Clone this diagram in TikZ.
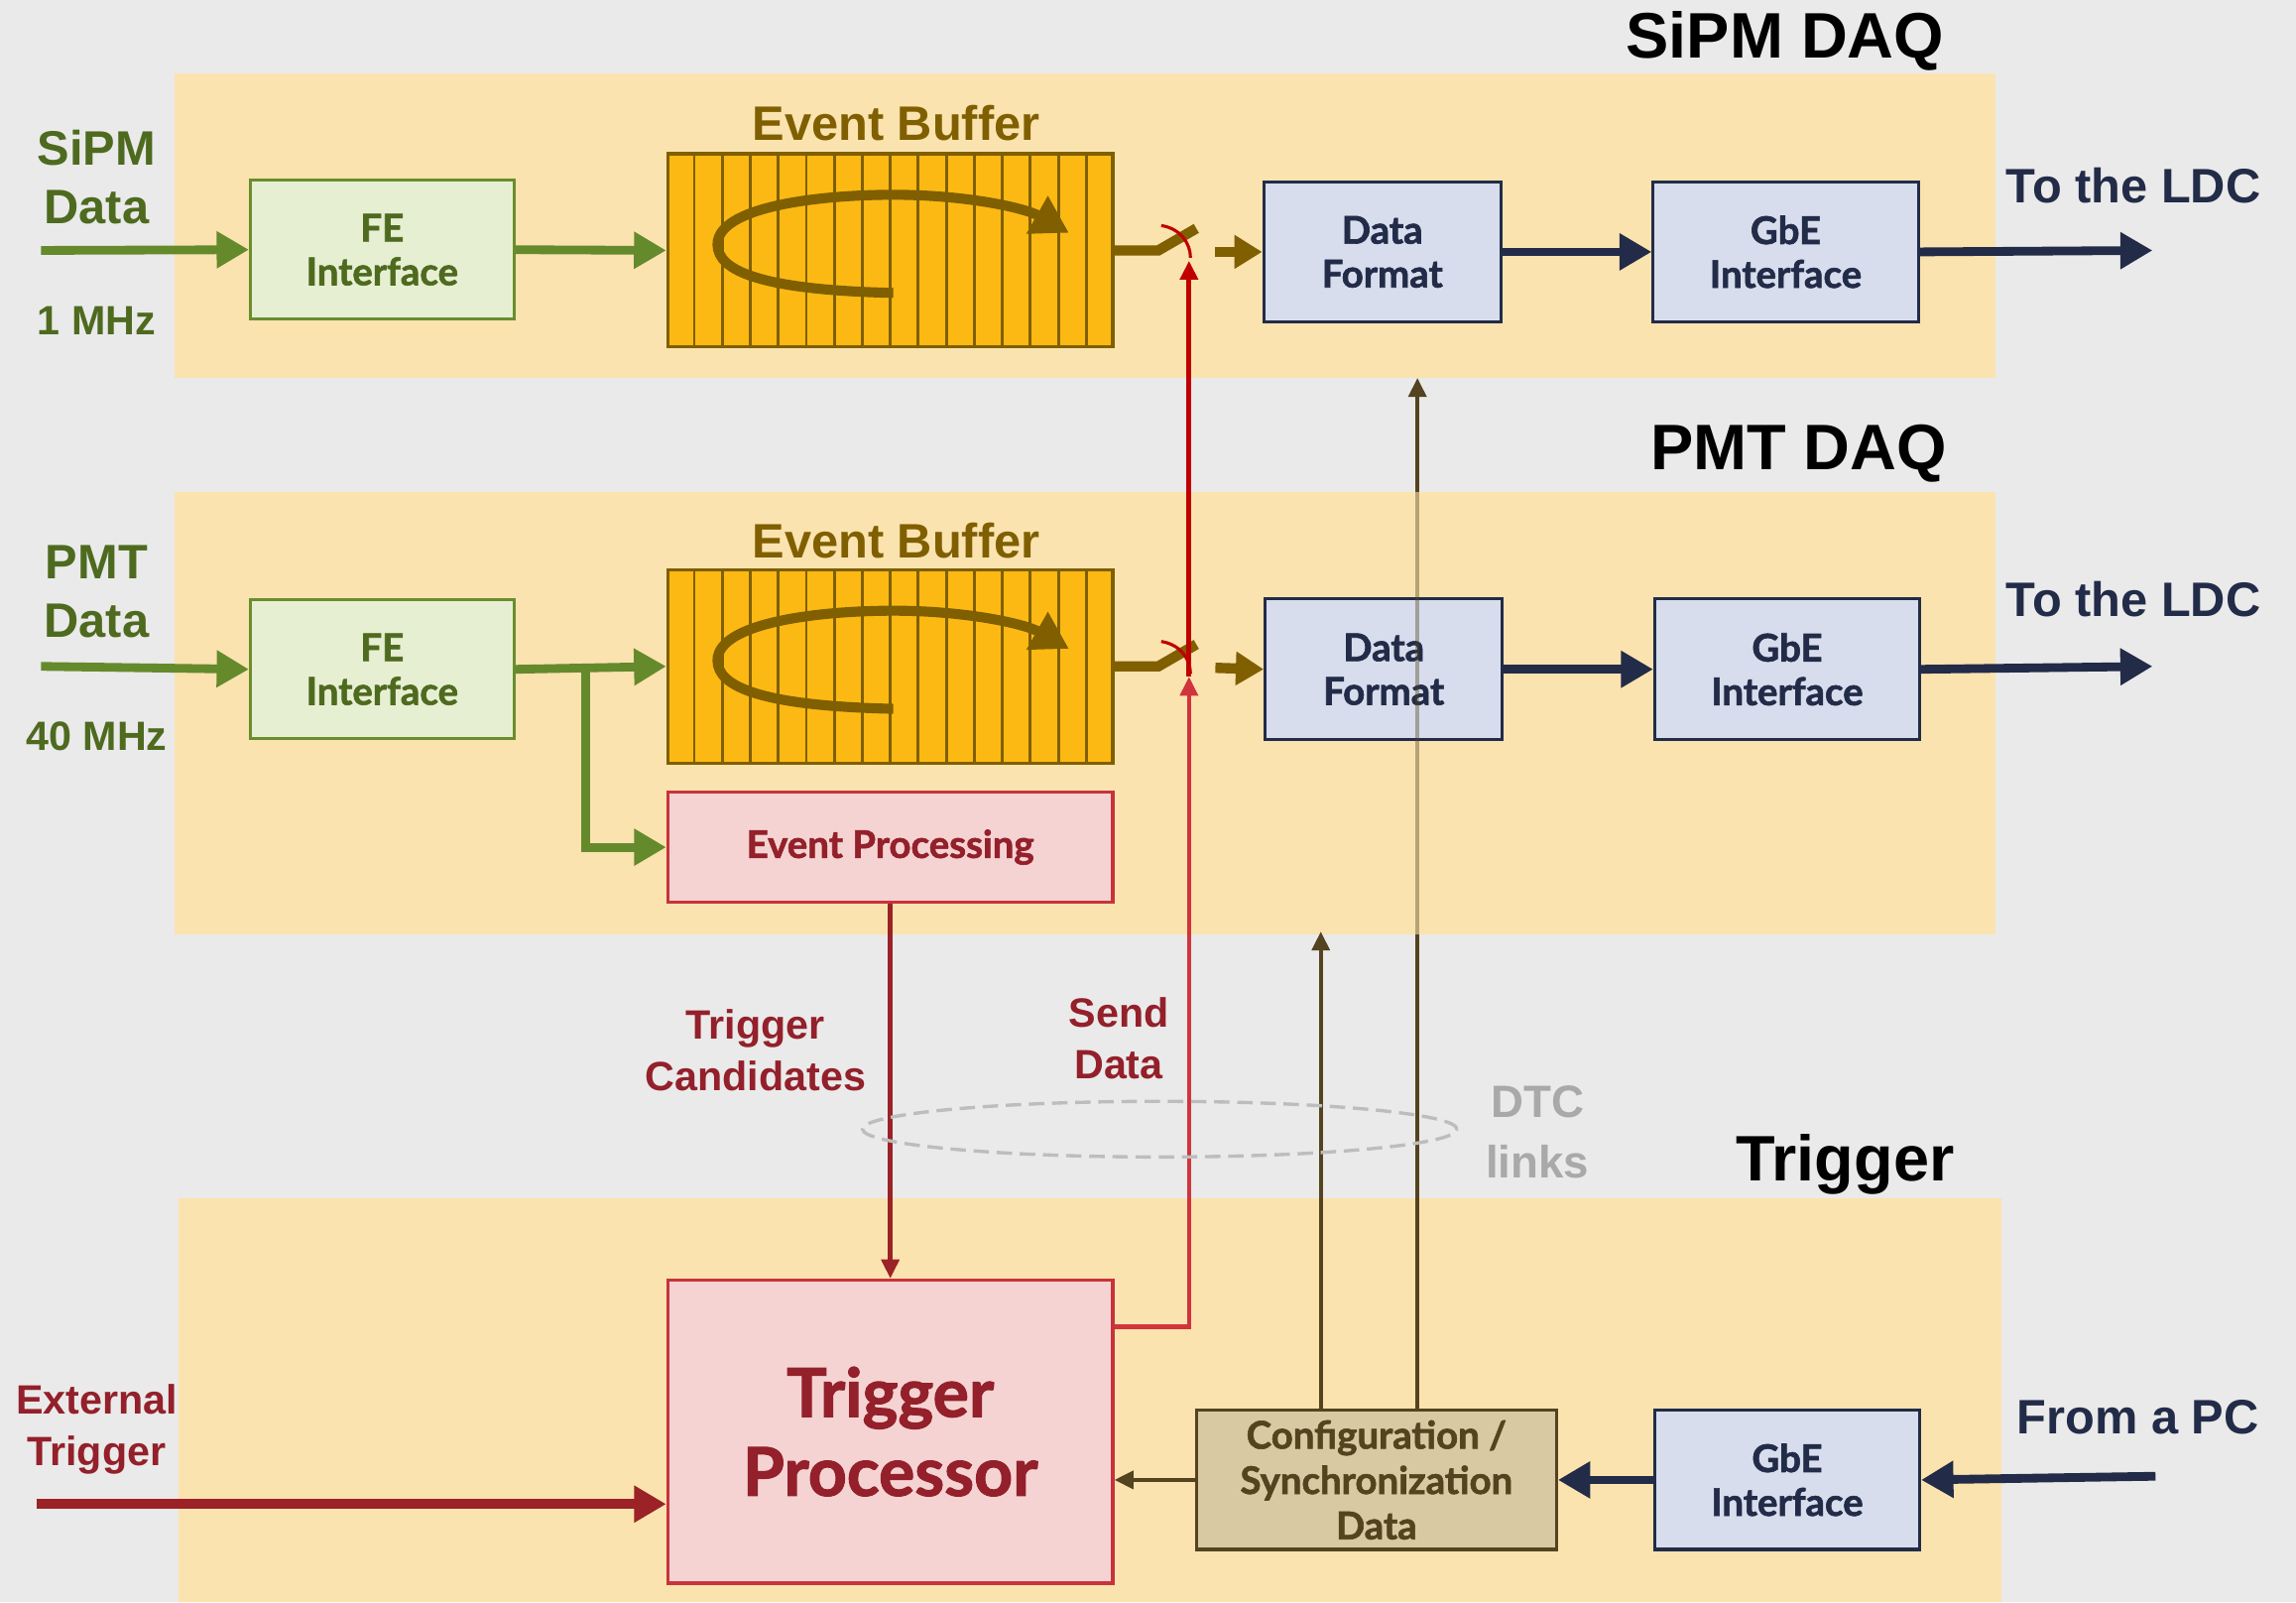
\documentclass[tikz,border=0pt]{standalone}
\usepackage{fontspec}
\setmainfont{Liberation Sans}
\newfontfamily\boxfont{Lato}[BoldFeatures={FakeBold=1.6}]
\usetikzlibrary{arrows.meta,calc}

\definecolor{paper}{HTML}{EAEAEA}
\definecolor{bandc}{HTML}{FAE3AF}
\definecolor{gtext}{HTML}{4E6A1F}
\definecolor{garr}{HTML}{658A2C}
\definecolor{fefill}{HTML}{E7EFD3}
\definecolor{fedraw}{HTML}{6A8D2E}
\definecolor{navy}{HTML}{222C48}
\definecolor{bluefill}{HTML}{D7DDEC}
\definecolor{bufbrown}{HTML}{7F5F00}
\definecolor{buffill}{HTML}{FDB913}
\definecolor{redfill}{HTML}{F5D3D3}
\definecolor{reddraw}{HTML}{C8333B}
\definecolor{redtext}{HTML}{93202A}
\definecolor{candred}{HTML}{9B2226}
\definecolor{sendred}{HTML}{D0343C}
\definecolor{brightred}{HTML}{C00000}
\definecolor{cfgfill}{HTML}{D9C9A3}
\definecolor{cfgdraw}{HTML}{54431F}
\definecolor{dtcgray}{HTML}{A9A9A9}
\definecolor{dtcline}{HTML}{BDBDBD}

\tikzset{
  band/.style={fill=bandc, draw=none},
  boxbase/.style={line width=1.2pt, align=center, inner sep=0pt,
    font=\boxfont\bfseries\fontsize{14.8}{17}\selectfont},
  febox/.style={boxbase, draw=fedraw, fill=fefill, text=gtext,
    minimum width=36mm, minimum height=19mm},
  bluebox/.style={boxbase, draw=navy, fill=bluefill, text=navy,
    minimum width=32.4mm, minimum height=19.2mm},
  gbebox/.style={bluebox, minimum width=36.2mm},
  bufbox/.style={draw=bufbrown, fill=buffill, line width=1.2pt,
    minimum width=60.8mm, minimum height=26.4mm, inner sep=0pt},
  redbox/.style={boxbase, draw=reddraw, fill=redfill, text=redtext},
  cfgbox/.style={boxbase, draw=cfgdraw, fill=cfgfill, text=cfgdraw,
    minimum width=49.2mm, minimum height=19mm,
    font=\boxfont\bfseries\fontsize{14.8}{17.6}\selectfont},
  lab/.style={align=center, inner sep=0pt,
    font=\bfseries\fontsize{18.8}{23}\selectfont},
  smalllab/.style={align=center, inner sep=0pt,
    font=\bfseries\fontsize{15.9}{19.9}\selectfont},
  title/.style={anchor=east, inner sep=0pt,
    font=\bfseries\fontsize{25}{30}\selectfont},
  bigtip/.style={-{Triangle[length=4.4mm,width=4.8mm]}},
  garrow/.style={draw=garr, line width=3.4pt, bigtip},
  narrow/.style={draw=navy, line width=3.4pt, bigtip},
  rarrow/.style={draw=candred, line width=3.8pt, bigtip},
  lever/.style={draw=bufbrown, line width=4pt},
  barrow/.style={draw=bufbrown, line width=4pt,
    -{Triangle[length=3.8mm,width=4.4mm]}},
  looparrow/.style={draw=bufbrown, line width=3.9pt,
    -{Triangle[length=5mm,width=5.6mm]}},
  thintip/.style={-{Triangle[length=2.6mm,width=2.4mm]}},
  candline/.style={draw=candred, line width=1.7pt, thintip},
  sendlow/.style={draw=sendred, line width=1.7pt, thintip},
  sendhigh/.style={draw=brightred, line width=1.9pt, thintip},
  cfgline/.style={draw=cfgdraw, line width=1.7pt},
  arcred/.style={draw=brightred, line width=1.2pt},
}

\begin{document}
\begin{tikzpicture}[x=0.02cm, y=-0.02cm]
\useasboundingbox (0,0) rectangle (1568,1094);
\fill[paper] (0,0) rectangle (1568,1094);

% shaded regions of the three subsystems
\fill[band] (119,50) rectangle (1363,258);
\fill[band] (119,336) rectangle (1363,638);
\fill[band] (122,818) rectangle (1367,1094);

\node[title] (tsipm) at (1328,28) {SiPM DAQ};
\node[title] (tpmt) at (1330,310) {PMT DAQ};
\node[title] (ttrig) at (1335,795) {Trigger};

% ---------------- SiPM DAQ ----------------
\node[lab, text=gtext] (sipmlab) at (66,121) {SiPM\\Data};
\node[smalllab, text=gtext] (sipmrate) at (66,219) {1 MHz};
\node[febox] (FE1) at (261,170.5) {FE\\Interface};
\node[bufbox] (EB1) at (608,171) {};
\node[lab, text=bufbrown] (eblab1) at (612,84) {Event Buffer};
\node[bluebox] (DF1) at (944,172) {Data\\Format};
\node[gbebox] (GB1) at (1219.5,172) {GbE\\Interface};
\node[lab, text=navy] (ldc1lab) at (1457,127) {To the LDC};

% ---------------- PMT DAQ ----------------
\node[lab, text=gtext] (pmtlab) at (66,404) {PMT\\Data};
\node[smalllab, text=gtext] (pmtrate) at (66,503) {40 MHz};
\node[febox] (FE2) at (261,457) {FE\\Interface};
\node[bufbox] (EB2) at (608,455) {};
\node[lab, text=bufbrown] (eblab2) at (612,369) {Event Buffer};
\node[redbox, minimum width=60.8mm, minimum height=15mm] (EP) at (608,578.5) {Event Processing};
\node[bluebox] (DF2) at (945,457) {Data\\Format};
\node[gbebox] (GB2) at (1220.5,457) {GbE\\Interface};
\node[lab, text=navy] (ldc2lab) at (1457,409) {To the LDC};

% ---------------- Trigger ----------------
\node[redbox, minimum width=60.8mm, minimum height=41.4mm,
  font=\boxfont\bfseries\fontsize{26.2}{30.7}\selectfont] (TP) at (608,977.5) {Trigger\\Processor};
\node[cfgbox] (CFG) at (940,1010.5) {Configuration /\\Synchronization\\Data};
\node[gbebox, minimum height=19mm] (GB3) at (1220.5,1010.5) {GbE\\Interface};
\node[lab, text=navy] (pclab) at (1460,968) {From a PC};
\node[smalllab, text=redtext] (extlab) at (66,976) {External\\Trigger};

% labels along the links
\node[smalllab, text=redtext] (candlab) at (516,717) {Trigger\\Candidates};
\node[smalllab, text=redtext] (sendlab) at (764,709) {Send\\Data};
\node[align=center, inner sep=0pt, text=dtcgray,
  font=\bfseries\fontsize{17.6}{23.3}\selectfont] (dtclab) at (1050,773) {DTC\\links};

% free ends of the connectors
\coordinate (gin1) at (28,171);
\coordinate (gin2) at (28,455);
\coordinate (br) at (400,455);
\coordinate (ldc1) at (1470,171);
\coordinate (ldc2) at (1470,455);
\coordinate (pcin) at (1472,1008);
\coordinate (extin) at (25,1027);
\coordinate (sw1) at (812,178);
\coordinate (sw2) at (812,462);
\coordinate (lev1) at (817,156);
\coordinate (lev2) at (817,440);
\coordinate (din1) at (830,172);
\coordinate (din2) at (830,456);
\coordinate (pmtin) at (902,636);
\coordinate (sipmin) at (968,258);
\coordinate (pmtbot) at (968,638);
\coordinate (pmttop) at (968,336);

% buffer cells
\foreach \b in {EB1,EB2}{
  \foreach \k in {1,...,15}{
    \draw[bufbrown, line width=1.1pt]
      ($(\b.south west)!\k/16!(\b.south east)$) --
      ($(\b.north west)!\k/16!(\b.north east)$);
  }
  \begin{scope}[shift={(\b.center)}]
    \draw[looparrow] (2,29) .. controls (-88,27) and (-118,14) .. (-118,-4)
      .. controls (-118,-30) and (-48,-38) .. (2,-38)
      .. controls (52,-38) and (92,-29) .. (122,-12);
  \end{scope}
}

% SiPM data path
\draw[garrow] (gin1) -- (FE1.west);
\draw[garrow] (FE1.east) -- (EB1.west);
\draw[lever] (EB1.east) -- ++(6mm,0) -- (lev1);
\draw[barrow] (din1) -- (DF1.west);
\draw[narrow] (DF1.east) -- (GB1.west);
\draw[narrow] (GB1.east) -- (ldc1);

% PMT data path
\draw[garrow] (gin2) -- (FE2.west);
\draw[garrow] (FE2.east) -- (EB2.west);
\draw[garrow] (br) |- (EP.west);
\draw[lever] (EB2.east) -- ++(6mm,0) -- (lev2);
\draw[barrow] (din2) -- (DF2.west);
\draw[narrow] (DF2.east) -- (GB2.west);
\draw[narrow] (GB2.east) -- (ldc2);

% configuration links to the DAQ boards
\draw[cfgline] (sipmin |- CFG.north) -- (pmtbot);
\draw[cfgline, opacity=0.4] (pmtbot) -- (pmttop);
\draw[cfgline, thintip] (pmttop) -- (sipmin);
\draw[cfgline, thintip] (pmtin |- CFG.north) -- (pmtin);

% trigger links
\draw[candline] (EP.south) -- (TP.north);
\draw[sendlow] ([yshift=-6.6mm]TP.north east) -| (sw2);
\draw[sendhigh] (sw2) -- (sw1);
\draw[arcred] (793,154) .. controls (806,156) and (813,166) .. (813,176);
\draw[arcred] (793,438) .. controls (806,440) and (813,450) .. (813,460);

\draw[rarrow] (extin) -- (extin -| TP.west);
\draw[cfgline, thintip] (CFG.west) -- (CFG.west -| TP.east);
\draw[narrow] (GB3.west) -- (CFG.east);
\draw[narrow] (pcin) -- (GB3.east);

% DTC links bundle
\draw[dtcline, dashed, line width=1.3pt, dash pattern=on 6pt off 3pt]
  (792,771) ellipse [x radius=40.6mm, y radius=3.8mm];
\end{tikzpicture}
\end{document}
